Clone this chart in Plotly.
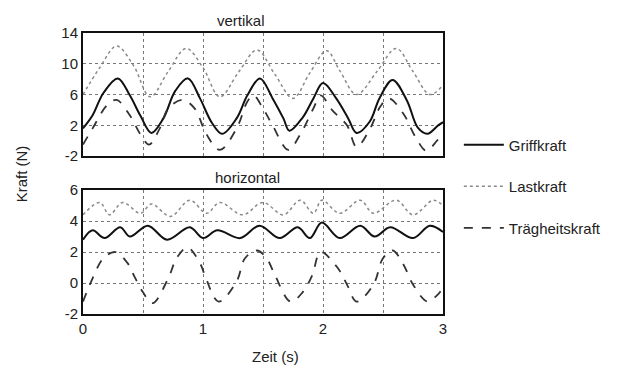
import plotly.graph_objects as go
from plotly.subplots import make_subplots

# ---- data ----
# vertikal
grv_t = [0.0, 0.08, 0.17, 0.29, 0.39, 0.48, 0.57, 0.67, 0.77, 0.875, 0.975, 1.075, 1.16, 1.28, 1.37, 1.475,
         1.58, 1.67, 1.72, 1.83, 1.92, 2.0, 2.11, 2.21, 2.28, 2.39, 2.47, 2.58, 2.7, 2.79, 2.87, 2.96, 3.0]
grv = [1.6, 3.3, 6.2, 8.1, 5.9, 3.2, 1.0, 2.9, 6.5, 8.1, 5.5, 2.3, 0.9, 2.9, 5.9, 8.1,
       5.5, 2.9, 1.3, 3.0, 5.5, 7.5, 5.5, 2.9, 1.0, 2.5, 5.5, 7.9, 5.2, 1.7, 0.9, 2.0, 2.4]

lav_t = [0.0, 0.14, 0.28, 0.42, 0.56, 0.71, 0.86, 1.0, 1.14, 1.3, 1.45, 1.6, 1.75, 1.89, 2.03, 2.14,
         2.28, 2.45, 2.61, 2.75, 2.89, 3.0]
lav = [6.0, 9.5, 12.3, 9.8, 5.7, 9.0, 12.0, 9.5, 5.7, 9.0, 11.8, 8.6, 5.5, 8.8, 11.7, 9.1,
       6.0, 9.0, 12.0, 9.0, 6.0, 7.2]

trv_t = [0.0, 0.08, 0.2, 0.28, 0.39, 0.48, 0.55, 0.64, 0.71, 0.83, 0.93, 1.03, 1.14, 1.28, 1.37, 1.42,
         1.5, 1.58, 1.71, 1.81, 1.92, 1.98, 2.08, 2.2, 2.28, 2.39, 2.48, 2.55, 2.67, 2.77, 2.86, 2.95, 3.0]
trv = [-0.5, 1.6, 4.6, 5.3, 3.3, 0.8, -0.5, 1.6, 4.2, 5.3, 4.2, 0.8, -1.2, 1.6, 5.1, 5.9,
       4.2, 2.0, -1.2, 0.8, 4.2, 5.9, 3.9, 2.0, -0.8, 1.5, 4.5, 5.5, 3.5, 0.5, -1.3, 0.0, 1.0]

# horizontal
grh_t = [0.0, 0.08, 0.18, 0.31, 0.39, 0.54, 0.7, 0.89, 1.0, 1.12, 1.31, 1.47, 1.64, 1.79, 1.89, 1.99,
         2.14, 2.31, 2.43, 2.56, 2.75, 2.89, 3.0]
grh = [2.8, 3.4, 2.9, 3.6, 3.0, 3.7, 2.8, 3.6, 2.9, 3.4, 2.9, 3.7, 2.9, 3.6, 2.9, 3.9,
       2.9, 3.7, 3.0, 3.6, 2.9, 3.7, 3.3]

lah_t = [0.0, 0.14, 0.22, 0.33, 0.48, 0.57, 0.73, 0.89, 1.03, 1.14, 1.33, 1.5, 1.67, 1.81, 1.92, 1.99,
         2.14, 2.31, 2.42, 2.61, 2.75, 2.92, 3.0]
lah = [4.4, 5.2, 4.4, 5.2, 4.5, 5.1, 4.3, 5.35, 4.5, 5.2, 4.4, 5.2, 4.4, 5.35, 4.5, 5.35,
       4.5, 5.35, 4.5, 5.35, 4.4, 5.35, 5.0]

trh_t = [0.0, 0.08, 0.17, 0.27, 0.37, 0.43, 0.5, 0.58, 0.71, 0.78, 0.87, 0.98, 1.02, 1.13, 1.28, 1.35,
         1.45, 1.53, 1.6, 1.73, 1.83, 1.91, 1.98, 2.12, 2.2, 2.28, 2.42, 2.5, 2.58, 2.67, 2.75, 2.87, 2.95, 3.0]
trh = [-1.2, 0.3, 1.6, 2.0, 1.3, 0.4, -0.6, -1.3, 0.3, 1.6, 2.3, 1.2, 0.4, -1.2, 0.1, 1.6,
       2.1, 1.6, 0.5, -1.2, -0.6, 0.5, 2.0, 1.0, -0.1, -1.2, -0.1, 1.6, 2.1, 1.2, -0.1, -1.2, -0.8, -0.3]

names = ["Griffkraft", "Lastkraft", "Trägheitskraft"]
yt_top = [-2, 2, 6, 10, 14]
yt_bot = [-2, 0, 2, 4, 6]
xt = [0, 1, 2, 3]

styles = [dict(color="#111111", width=2, dash="solid"),
          dict(color="#8a8a8a", width=1.5, dash="dot"),
          dict(color="#333333", width=1.8, dash="dash")]

fig = make_subplots(rows=2, cols=1, shared_xaxes=True)

top = [(grv_t, grv), (lav_t, lav), (trv_t, trv)]
bot = [(grh_t, grh), (lah_t, lah), (trh_t, trh)]
for i, (tt, vv) in enumerate(top):
    fig.add_trace(go.Scatter(x=tt, y=vv, mode="lines", name=names[i], line=styles[i],
                             line_shape="spline", legendgroup=names[i], showlegend=True), row=1, col=1)
for i, (tt, vv) in enumerate(bot):
    fig.add_trace(go.Scatter(x=tt, y=vv, mode="lines", name=names[i], line=styles[i],
                             line_shape="spline", legendgroup=names[i], showlegend=False), row=2, col=1)

font = dict(family="Liberation Sans, Arial, sans-serif", size=15, color="#222222")
axcommon = dict(showline=True, mirror=True, linecolor="#111111", linewidth=2,
                showgrid=True, gridcolor="#777777", griddash="dot", gridwidth=1,
                zeroline=False, ticks="", tickfont=font)

fig.update_xaxes(range=[0, 3], tickvals=xt, ticktext=[str(v) for v in xt],
                 minor=dict(dtick=0.5, showgrid=True, gridcolor="#777777", griddash="dot", gridwidth=1),
                 **axcommon)
fig.update_xaxes(showticklabels=False, row=1, col=1)
fig.update_yaxes(range=[-2, 14], tickvals=yt_top, ticktext=[str(v) for v in yt_top],
                 domain=[0.562, 1.0], **axcommon, row=1, col=1)
fig.update_yaxes(range=[-2, 6], tickvals=yt_bot, ticktext=[str(v) for v in yt_bot],
                 domain=[0.0, 0.441], **axcommon, row=2, col=1)

fig.update_layout(
    width=627, height=371,
    margin=dict(l=83, r=184, t=33, b=57),
    paper_bgcolor="white", plot_bgcolor="white",
    font=font,
    showlegend=True,
    legend=dict(x=1.044, y=0.66, xanchor="left", yanchor="top", bgcolor="rgba(0,0,0,0)",
                font=dict(family="Liberation Sans, Arial, sans-serif", size=15, color="#222222"),
                itemwidth=40, tracegroupgap=19),
    annotations=[
        dict(text="vertikal", x=(241 - 83) / 360, y=1.0, xref="paper", yref="paper",
             xanchor="center", yanchor="bottom", showarrow=False, yshift=2, font=font),
        dict(text="horizontal", x=(247 - 83) / 360, y=0.441, xref="paper", yref="paper",
             xanchor="center", yanchor="bottom", showarrow=False, yshift=2, font=font),
        dict(text="Kraft (N)", x=-0.17, y=0.5, xref="paper", yref="paper", textangle=-90,
             xanchor="center", yanchor="middle", showarrow=False, font=font),
        dict(text="Zeit (s)", x=(275 - 83) / 360, y=0, xref="paper", yref="paper",
             xanchor="center", yanchor="top", showarrow=False, yshift=-32, font=font),
    ],
)

fig.write_html("out.html")
